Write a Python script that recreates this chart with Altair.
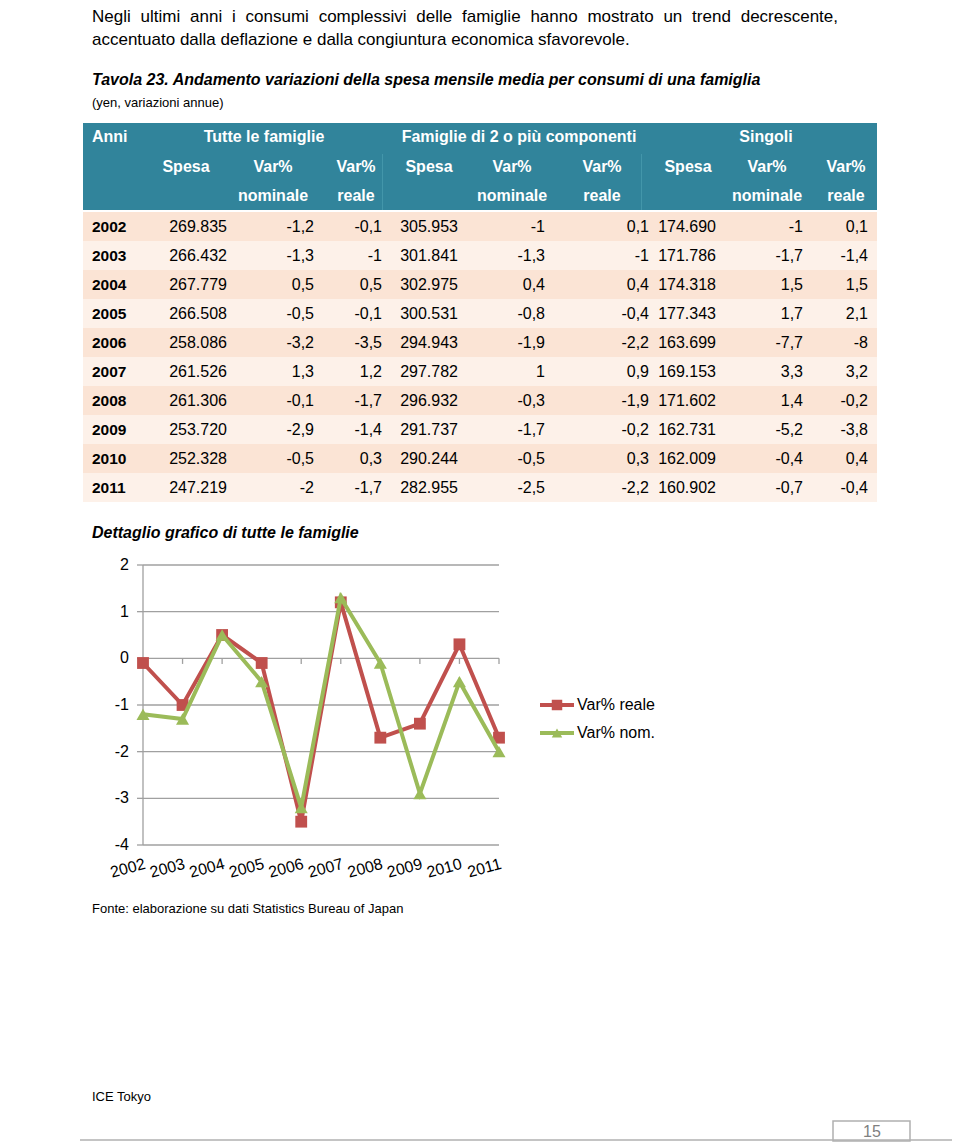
import altair as alt
import pandas as pd

# ---------------- data ----------------
years = [2002, 2003, 2004, 2005, 2006, 2007, 2008, 2009, 2010, 2011]

spesa_tutte = [269835, 266432, 267779, 266508, 258086, 261526, 261306, 253720, 252328, 247219]
nom_tutte = [-1.2, -1.3, 0.5, -0.5, -3.2, 1.3, -0.1, -2.9, -0.5, -2]
real_tutte = [-0.1, -1, 0.5, -0.1, -3.5, 1.2, -1.7, -1.4, 0.3, -1.7]

spesa_2plus = [305953, 301841, 302975, 300531, 294943, 297782, 296932, 291737, 290244, 282955]
nom_2plus = [-1, -1.3, 0.4, -0.8, -1.9, 1, -0.3, -1.7, -0.5, -2.5]
real_2plus = [0.1, -1, 0.4, -0.4, -2.2, 0.9, -1.9, -0.2, 0.3, -2.2]

spesa_singoli = [174690, 171786, 174318, 177343, 163699, 169153, 171602, 162731, 162009, 160902]
nom_singoli = [-1, -1.7, 1.5, 1.7, -7.7, 3.3, 1.4, -5.2, -0.4, -0.7]
real_singoli = [0.1, -1.4, 1.5, 2.1, -8, 3.2, -0.2, -3.8, 0.4, -0.4]

header_first = "Anni"
header_groups = ["Tutte le famiglie", "Famiglie di 2 o più componenti", "Singoli"]
header_sub = ["Spesa", "Var%", "Var%", "Spesa", "Var%", "Var%", "Spesa", "Var%", "Var%"]
header_sub2 = ["nominale", "reale", "nominale", "reale", "nominale", "reale"]
header_sub2_cols = [2, 3, 5, 6, 8, 9]

series_names = ["Var% reale", "Var% nom."]
y_tick_values = [2, 1, 0, -1, -2, -3, -4]
y_tick_labels = ["2", "1", "0", "-1", "-2", "-3", "-4"]

paragraph = [
    "Negli ultimi anni i consumi complessivi delle famiglie hanno mostrato un trend decrescente,",
    "accentuato dalla deflazione e dalla congiuntura economica sfavorevole.",
]
table_title = "Tavola 23. Andamento variazioni della spesa mensile media per consumi di una famiglia"
table_subtitle = "(yen, variazioni annue)"
chart_title = "Dettaglio grafico di tutte le famiglie"
source_note = "Fonte: elaborazione su dati Statistics Bureau of Japan"
footer_left = "ICE Tokyo"
page_number = "15"

# ---------------- style ----------------
FONT = "Liberation Sans"
HEAD = "#31849B"
ROW_DARK = "#FBE4D5"
ROW_LIGHT = "#FDF1E9"
RED = "#C0504D"
GREEN = "#9BBB59"
GRID = "#A0A0A0"
PARA_SIZE = 17

# Arial / Liberation Sans advance widths (per 1000 em) used to justify line 1
ADV = {"N": 722, "e": 556, "g": 556, "l": 222, "i": 222, "u": 556, "t": 278, "m": 833,
       "a": 556, "n": 556, "c": 500, "o": 556, "s": 500, "p": 556, "v": 500, "d": 556,
       "f": 278, "h": 556, "r": 333, ",": 278}


def fmt_pct(v):
    return ("%g" % v).replace(".", ",")


def fmt_spesa(v):
    return f"{v:,}".replace(",", ".")


one = pd.DataFrame({"k": [0]})


def stext(txt, x, y, size, weight="normal", style="normal", align="left",
          baseline="alphabetic", color="#000000"):
    return alt.Chart(one).mark_text(
        font=FONT, fontSize=size, fontWeight=weight, fontStyle=style,
        align=align, baseline=baseline, color=color
    ).encode(x=alt.value(x), y=alt.value(y), text=alt.value(txt))


layers = []

# ---------------- top text (line 1 justified) ----------------
words = paragraph[0].split(" ")
wwidths = [sum(ADV.get(ch, 556) for ch in w) / 1000 * PARA_SIZE for w in words]
line_left, line_right = 84, 830
gap = (line_right - line_left - sum(wwidths)) / (len(words) - 1)
xpos = line_left
for w, ww in zip(words, wwidths):
    layers.append(stext(w, xpos, 14, PARA_SIZE))
    xpos += ww + gap
layers.append(stext(paragraph[1], 84, 37, PARA_SIZE))
layers.append(stext(table_title, 84, 77, 16, weight="bold", style="italic"))
layers.append(stext(table_subtitle, 84, 99, 13))

# ---------------- table ----------------
layers.append(alt.Chart(one).mark_rect(color=HEAD).encode(
    x=alt.value(75), x2=alt.value(869), y=alt.value(115), y2=alt.value(202)))
for xs in [374.5, 633.5]:
    layers.append(alt.Chart(one).mark_rule(color="#4396AA", strokeWidth=1).encode(
        x=alt.value(xs), y=alt.value(146), y2=alt.value(202)))

row_y = alt.Scale(domain=[2001.5, 2011.5], range=[204, 494], nice=False, zero=False)

df_years = pd.DataFrame({"year": years, "ylab": [str(y) for y in years]})
layers.append(alt.Chart(df_years).transform_calculate(
    lo="datum.year - 0.5", hi="datum.year + 0.5",
    shade="datum.year % 2 == 0 ? 'd' : 'l'"
).mark_rect().encode(
    y=alt.Y("lo:Q", scale=row_y, axis=None), y2="hi:Q",
    x=alt.value(75), x2=alt.value(869),
    color=alt.Color("shade:N", scale=alt.Scale(domain=["d", "l"], range=[ROW_DARK, ROW_LIGHT]),
                    legend=None)))

# header texts
layers.append(stext(header_first, 84, 129, 16, weight="bold", baseline="middle", color="white"))
grp_x = alt.Scale(domain=[1, 2, 3], range=[256, 511, 758], nice=False, zero=False)
layers.append(alt.Chart(pd.DataFrame({"i": [1, 2, 3], "t": header_groups})).mark_text(
    font=FONT, fontSize=16, fontWeight="bold", color="white", baseline="middle", align="center"
).encode(x=alt.X("i:Q", scale=grp_x, axis=None), y=alt.value(129), text="t:N"))

col_c = alt.Scale(domain=list(range(1, 10)),
                  range=[178, 265, 348, 421, 504, 594, 680, 759, 838], nice=False, zero=False)
layers.append(alt.Chart(pd.DataFrame({"i": list(range(1, 10)), "t": header_sub})).mark_text(
    font=FONT, fontSize=16, fontWeight="bold", color="white", baseline="middle", align="center"
).encode(x=alt.X("i:Q", scale=col_c, axis=None), y=alt.value(159), text="t:N"))
layers.append(alt.Chart(pd.DataFrame({"i": header_sub2_cols, "t": header_sub2})).mark_text(
    font=FONT, fontSize=16, fontWeight="bold", color="white", baseline="middle", align="center"
).encode(x=alt.X("i:Q", scale=col_c, axis=None), y=alt.value(188), text="t:N"))

# body texts
cols = [spesa_tutte, nom_tutte, real_tutte, spesa_2plus, nom_2plus, real_2plus,
        spesa_singoli, nom_singoli, real_singoli]
rows = []
for ci, col in enumerate(cols, start=1):
    for yv, v in zip(years, col):
        lab = fmt_spesa(v) if ci in (1, 4, 7) else fmt_pct(v)
        rows.append({"year": yv, "col": ci, "label": lab})
df_cells = pd.DataFrame(rows)

col_r = alt.Scale(domain=list(range(1, 10)),
                  range=[219, 306, 374, 450, 537, 641, 708, 795, 860], nice=False, zero=False)
layers.append(alt.Chart(df_years).mark_text(
    font=FONT, fontSize=15.5, fontWeight="bold", align="left", baseline="middle", color="#000"
).encode(y=alt.Y("year:Q", scale=row_y, axis=None), x=alt.value(84), text="ylab:N"))
layers.append(alt.Chart(df_cells).mark_text(
    font=FONT, fontSize=16, align="right", baseline="middle", color="#000"
).encode(y=alt.Y("year:Q", scale=row_y, axis=None),
         x=alt.X("col:Q", scale=col_r, axis=None), text="label:N"))

# ---------------- line chart ----------------
layers.append(stext(chart_title, 84, 530, 16, weight="bold", style="italic"))

cx = alt.Scale(domain=[2002, 2011], range=[135, 491], nice=False, zero=False)
cy = alt.Scale(domain=[-4, 2], range=[837, 557], nice=False, zero=False)

df_ticks = pd.DataFrame({"v": y_tick_values, "lbl": y_tick_labels})
layers.append(alt.Chart(df_ticks).mark_rule(color=GRID, strokeWidth=1.3).encode(
    y=alt.Y("v:Q", scale=cy, axis=None),
    x=alt.XDatum(2002, type="quantitative", scale=cx, axis=None),
    x2=alt.X2Datum(2011)))
layers.append(alt.Chart(one).mark_rule(color=GRID, strokeWidth=1.3).encode(
    x=alt.XDatum(2002, type="quantitative", scale=cx, axis=None),
    y=alt.YDatum(2, type="quantitative", scale=cy, axis=None),
    y2=alt.Y2Datum(-4)))
layers.append(alt.Chart(df_ticks).mark_rule(color=GRID, strokeWidth=1.3).encode(
    y=alt.Y("v:Q", scale=cy, axis=None), x=alt.value(129), x2=alt.value(135)))
layers.append(alt.Chart(df_years).mark_rule(color=GRID, strokeWidth=1.3).encode(
    x=alt.X("year:Q", scale=cx, axis=None),
    y=alt.YDatum(0, type="quantitative", scale=cy, axis=None),
    y2=alt.Y2Datum(-0.12)))
layers.append(alt.Chart(df_ticks).mark_text(
    font=FONT, fontSize=16, align="right", baseline="middle", color="#000"
).encode(y=alt.Y("v:Q", scale=cy, axis=None), x=alt.value(121), text="lbl:N"))
layers.append(alt.Chart(df_years).mark_text(
    font=FONT, fontSize=16, align="right", baseline="top", angle=345, color="#000"
).encode(x=alt.X("year:Q", scale=cx, axis=None), y=alt.value(848), text="ylab:N"))

df_real = pd.DataFrame({"year": years, "v": real_tutte})
df_nom = pd.DataFrame({"year": years, "v": nom_tutte})
for df_s, colr, shp, sz in [(df_real, RED, "square", 140), (df_nom, GREEN, "triangle-up", 170)]:
    layers.append(alt.Chart(df_s).mark_line(color=colr, strokeWidth=4).encode(
        x=alt.X("year:Q", scale=cx, axis=None), y=alt.Y("v:Q", scale=cy, axis=None)))
    layers.append(alt.Chart(df_s).mark_point(
        shape=shp, filled=True, size=sz, color=colr, opacity=1).encode(
        x=alt.X("year:Q", scale=cx, axis=None), y=alt.Y("v:Q", scale=cy, axis=None)))

# legend
df_leg = pd.DataFrame({"series": series_names})
leg_y = alt.Scale(type="point", domain=series_names, range=[697, 725], padding=0)
leg_c = alt.Scale(domain=series_names, range=[RED, GREEN])
leg_s = alt.Scale(domain=series_names, range=["square", "triangle-up"])
layers.append(alt.Chart(df_leg).mark_rule(strokeWidth=4).encode(
    y=alt.Y("series:N", scale=leg_y, axis=None), x=alt.value(532), x2=alt.value(566),
    color=alt.Color("series:N", scale=leg_c, legend=None)))
layers.append(alt.Chart(df_leg).mark_point(filled=True, size=110, opacity=1).encode(
    y=alt.Y("series:N", scale=leg_y, axis=None), x=alt.value(549),
    color=alt.Color("series:N", scale=leg_c, legend=None),
    shape=alt.Shape("series:N", scale=leg_s, legend=None)))
layers.append(alt.Chart(df_leg).mark_text(
    font=FONT, fontSize=16, align="left", baseline="middle", color="#000").encode(
    y=alt.Y("series:N", scale=leg_y, axis=None), x=alt.value(569), text="series:N"))

# ---------------- footer ----------------
layers.append(stext(source_note, 84, 905, 13))
layers.append(stext(footer_left, 84, 1093, 13))
layers.append(alt.Chart(one).mark_rect(fill="white", stroke="#B0B0B0", strokeWidth=1.5).encode(
    x=alt.value(825), x2=alt.value(902), y=alt.value(1113), y2=alt.value(1133)))
layers.append(alt.Chart(one).mark_rule(color="#B0B0B0", strokeWidth=1.5).encode(
    x=alt.value(72), x2=alt.value(944), y=alt.value(1132)))
layers.append(stext(page_number, 864, 1124, 16, align="center", baseline="middle", color="#808080"))

chart = alt.layer(*layers).resolve_scale(
    x="independent", y="independent", color="independent", shape="independent"
).properties(
    width=944, height=1134, padding=0, autosize=alt.AutoSizeParams(type="none")
).configure_view(stroke="transparent")

chart.save("out.html", embed_options={"renderer": "svg", "actions": False})
